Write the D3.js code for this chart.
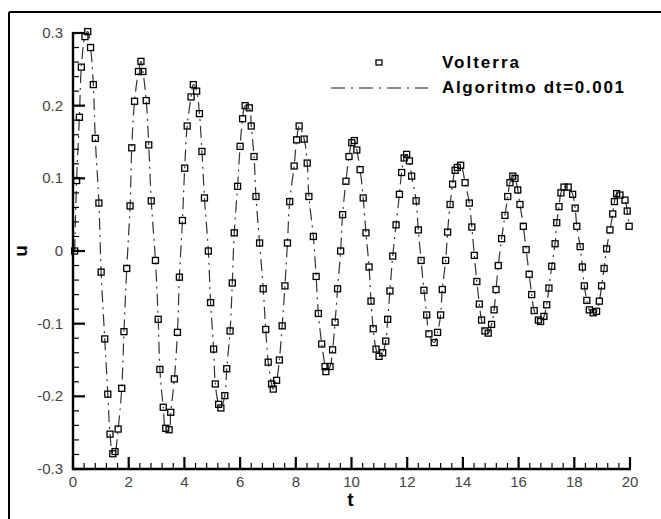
<!DOCTYPE html>
<html>
<head>
<meta charset="utf-8">
<script src="https://cdn.jsdelivr.net/npm/d3@7"></script>
<style>
  html, body { margin: 0; padding: 0; background: #fff; }
  svg { display: block; }
</style>
</head>
<body>
<svg id="chart" width="661" height="519"></svg>
<script>
// Volterra solution samples u(t)
const tVol = [
  0.06, 0.13, 0.23, 0.30, 0.43, 0.53, 0.63, 0.73, 0.80, 0.93,
  1.01, 1.14, 1.25, 1.33, 1.43, 1.51, 1.62, 1.75, 1.83, 1.93,
  2.05, 2.11, 2.21, 2.35, 2.44, 2.51, 2.63, 2.72, 2.81, 2.96,
  3.06, 3.12, 3.24, 3.33, 3.45, 3.51, 3.64, 3.75, 3.82, 3.93,
  4.01, 4.10, 4.24, 4.32, 4.44, 4.54, 4.63, 4.72, 4.86, 4.94,
  5.05, 5.11, 5.23, 5.31, 5.45, 5.52, 5.64, 5.72, 5.79, 5.91,
  6.00, 6.09, 6.18, 6.33, 6.40, 6.50, 6.57, 6.70, 6.83, 6.92,
  7.01, 7.13, 7.19, 7.31, 7.41, 7.51, 7.61, 7.70, 7.78, 7.94,
  8.03, 8.12, 8.30, 8.41, 8.47, 8.63, 8.73, 8.81, 8.93, 9.05,
  9.08, 9.23, 9.32, 9.41, 9.50, 9.61, 9.68, 9.80, 9.91, 10.01,
  10.10, 10.19, 10.31, 10.42, 10.52, 10.63, 10.70, 10.78, 10.88, 10.99,
  11.12, 11.23, 11.30, 11.38, 11.48, 11.60, 11.72, 11.80, 11.89, 11.98,
  12.08, 12.16, 12.32, 12.40, 12.50, 12.60, 12.70, 12.78, 12.97, 13.09,
  13.20, 13.26, 13.38, 13.45, 13.54, 13.63, 13.72, 13.80, 13.92, 14.08,
  14.23, 14.32, 14.41, 14.50, 14.59, 14.67, 14.79, 14.91, 15.03, 15.12,
  15.19, 15.27, 15.39, 15.51, 15.61, 15.69, 15.79, 15.87, 15.97, 16.05,
  16.17, 16.27, 16.38, 16.47, 16.56, 16.71, 16.79, 16.91, 17.01, 17.09,
  17.19, 17.31, 17.37, 17.45, 17.52, 17.63, 17.78, 17.94, 18.03, 18.09,
  18.21, 18.29, 18.36, 18.45, 18.54, 18.68, 18.80, 18.90, 18.98, 19.07,
  19.16, 19.28, 19.38, 19.44, 19.52, 19.64, 19.82, 19.90, 19.97
];
const uVol = [
  0.000, 0.097, 0.184, 0.253, 0.295, 0.302, 0.280, 0.229, 0.155, 0.066,
  -0.029, -0.121, -0.197, -0.252, -0.279, -0.276, -0.245, -0.189, -0.111, -0.024,
  0.062, 0.142, 0.206, 0.247, 0.261, 0.247, 0.207, 0.146, 0.069, -0.013,
  -0.094, -0.163, -0.215, -0.244, -0.246, -0.222, -0.176, -0.112, -0.036, 0.042,
  0.114, 0.172, 0.212, 0.229, 0.220, 0.189, 0.137, 0.073, 0.000, -0.071,
  -0.135, -0.183, -0.211, -0.216, -0.199, -0.162, -0.110, -0.044, 0.025, 0.089,
  0.144, 0.182, 0.200, 0.197, 0.172, 0.130, 0.075, 0.011, -0.052, -0.108,
  -0.153, -0.183, -0.190, -0.178, -0.150, -0.103, -0.048, 0.011, 0.068, 0.117,
  0.153, 0.172, 0.154, 0.121, 0.075, 0.020, -0.035, -0.086, -0.128, -0.159,
  -0.166, -0.159, -0.136, -0.098, -0.052, 0.000, 0.050, 0.096, 0.130, 0.149,
  0.152, 0.139, 0.112, 0.073, 0.025, -0.022, -0.069, -0.107, -0.135, -0.145,
  -0.140, -0.124, -0.094, -0.055, -0.007, 0.036, 0.078, 0.108, 0.128, 0.133,
  0.124, 0.103, 0.069, 0.029, -0.013, -0.054, -0.088, -0.114, -0.126, -0.112,
  -0.088, -0.053, -0.013, 0.026, 0.064, 0.092, 0.111, 0.115, 0.118, 0.094,
  0.066, 0.033, -0.006, -0.042, -0.073, -0.095, -0.110, -0.113, -0.101, -0.081,
  -0.053, -0.020, 0.017, 0.049, 0.075, 0.094, 0.103, 0.100, 0.084, 0.064,
  0.034, 0.002, -0.032, -0.060, -0.082, -0.095, -0.097, -0.090, -0.074, -0.051,
  -0.021, 0.010, 0.039, 0.061, 0.080, 0.088, 0.088, 0.078, 0.059, 0.034,
  0.006, -0.022, -0.048, -0.068, -0.081, -0.085, -0.083, -0.069, -0.048, -0.024,
  0.003, 0.029, 0.051, 0.068, 0.079, 0.077, 0.070, 0.055, 0.034
];
// the dt = 0.001 algorithm solution runs through the same samples
const tAlg = tVol;
const uAlg = uVol;

const seriesNames = ["Volterra", "Algoritmo dt=0.001"];
const xTicks = [0, 2, 4, 6, 8, 10, 12, 14, 16, 18, 20];
const yTicks = [-0.3, -0.2, -0.1, 0, 0.1, 0.2, 0.3];
const xLabel = "t";
const yLabel = "u";

const svg = d3.select("#chart");
const plotL = 73, plotR = 630, plotT = 33, plotB = 469;

const x = d3.scaleLinear().domain([0, 20]).range([plotL, plotR]);
const y = d3.scaleLinear().domain([-0.3, 0.3]).range([plotB, plotT]);

// outer frame (top and left edges visible within the page)
svg.append("line").attr("x1", 9).attr("x2", 661).attr("y1", 12).attr("y2", 12)
  .attr("stroke", "#000").attr("stroke-width", 2);
svg.append("line").attr("x1", 9).attr("x2", 9).attr("y1", 12).attr("y2", 519)
  .attr("stroke", "#000").attr("stroke-width", 2);

// algorithm curve, dash-dot
const lineGen = d3.line()
  .x((d, i) => x(tAlg[i]))
  .y((d, i) => y(uAlg[i]))
  .curve(d3.curveCatmullRom.alpha(0.5));
svg.append("path")
  .attr("d", lineGen(tAlg))
  .attr("fill", "none")
  .attr("stroke", "#333")
  .attr("stroke-width", 1.2)
  .attr("stroke-dasharray", "12,5,2,5");

// Volterra squares
const sq = 6;
svg.append("g").selectAll("rect")
  .data(tVol)
  .join("rect")
  .attr("x", (d, i) => x(d) - sq / 2)
  .attr("y", (d, i) => y(uVol[i]) - sq / 2)
  .attr("width", sq)
  .attr("height", sq)
  .attr("fill", "none")
  .attr("stroke", "#000")
  .attr("stroke-width", 1.3);

// tick marks point inward from the bottom and left axes
const xMinorVals = d3.range(0, 51).filter(k => k % 5 !== 0).map(k => k * 0.4);
const yMinorVals = d3.range(-30, 31, 2).filter(v => v % 10 !== 0).map(v => v / 100);
const ticks = svg.append("g").attr("stroke", "#000");
ticks.selectAll("line.xmaj").data(xTicks).join("line").attr("class", "xmaj")
  .attr("x1", d => x(d)).attr("x2", d => x(d))
  .attr("y1", plotB).attr("y2", plotB - 12).attr("stroke-width", 2.2);
ticks.selectAll("line.xmin").data(xMinorVals).join("line").attr("class", "xmin")
  .attr("x1", d => x(d)).attr("x2", d => x(d))
  .attr("y1", plotB).attr("y2", plotB - 6).attr("stroke-width", 1.2);
ticks.selectAll("line.ymaj").data(yTicks).join("line").attr("class", "ymaj")
  .attr("x1", plotL).attr("x2", plotL + 12)
  .attr("y1", d => y(d)).attr("y2", d => y(d)).attr("stroke-width", 2.2);
ticks.selectAll("line.ymin").data(yMinorVals).join("line").attr("class", "ymin")
  .attr("x1", plotL).attr("x2", plotL + 6)
  .attr("y1", d => y(d)).attr("y2", d => y(d)).attr("stroke-width", 1.2);

// axis lines
svg.append("line").attr("x1", plotL - 1).attr("x2", plotR + 1).attr("y1", plotB).attr("y2", plotB)
  .attr("stroke", "#000").attr("stroke-width", 2.4);
svg.append("line").attr("x1", plotL).attr("x2", plotL).attr("y1", plotT - 1).attr("y2", plotB + 1)
  .attr("stroke", "#000").attr("stroke-width", 2.4);

// tick labels
svg.append("g").selectAll("text")
  .data(xTicks)
  .join("text")
  .attr("x", d => x(d))
  .attr("y", plotB + 18)
  .attr("text-anchor", "middle")
  .attr("font-family", "Liberation Sans, Arial, sans-serif")
  .attr("font-size", 15)
  .attr("fill", "#444")
  .text(d => d3.format("d")(d));

svg.append("g").selectAll("text")
  .data(yTicks)
  .join("text")
  .attr("x", plotL - 10)
  .attr("y", d => y(d) + 5)
  .attr("text-anchor", "end")
  .attr("font-family", "Liberation Sans, Arial, sans-serif")
  .attr("font-size", 15)
  .attr("fill", "#444")
  .text(d => d === 0 ? "0" : d3.format(".1f")(d).replace("\u2212", "-"));

// axis titles
svg.append("text")
  .attr("x", (plotL + plotR) / 2 - 1)
  .attr("y", 506)
  .attr("text-anchor", "middle")
  .attr("font-family", "Liberation Sans, Arial, sans-serif")
  .attr("font-weight", "bold")
  .attr("font-size", 19)
  .attr("fill", "#000")
  .text(xLabel);

svg.append("text")
  .attr("transform", `translate(27,${y(0)}) rotate(-90)`)
  .attr("text-anchor", "middle")
  .attr("font-family", "Liberation Sans, Arial, sans-serif")
  .attr("font-weight", "bold")
  .attr("font-size", 19)
  .attr("fill", "#000")
  .text(yLabel);

// legend
const lg = svg.append("g");
lg.append("rect")
  .attr("x", 379 - sq / 2).attr("y", 63 - sq / 2)
  .attr("width", sq).attr("height", sq - 1)
  .attr("fill", "none").attr("stroke", "#000").attr("stroke-width", 1.3);
lg.append("line")
  .attr("x1", 331).attr("x2", 428).attr("y1", 88).attr("y2", 88)
  .attr("stroke", "#666").attr("stroke-width", 1.4)
  .attr("stroke-dasharray", "14,6,2,6");
const legendText = [
  { label: seriesNames[0], y: 68, w: 77 },
  { label: seriesNames[1], y: 93, w: 182 }
];
lg.selectAll("text.leg")
  .data(legendText)
  .join("text")
  .attr("class", "leg")
  .attr("x", 442)
  .attr("y", d => d.y)
  .attr("textLength", d => d.w)
  .attr("lengthAdjust", "spacing")
  .attr("font-family", "Liberation Sans, Arial, sans-serif")
  .attr("font-weight", "bold")
  .attr("font-size", 17)
  .attr("fill", "#000")
  .text(d => d.label);
</script>
</body>
</html>
